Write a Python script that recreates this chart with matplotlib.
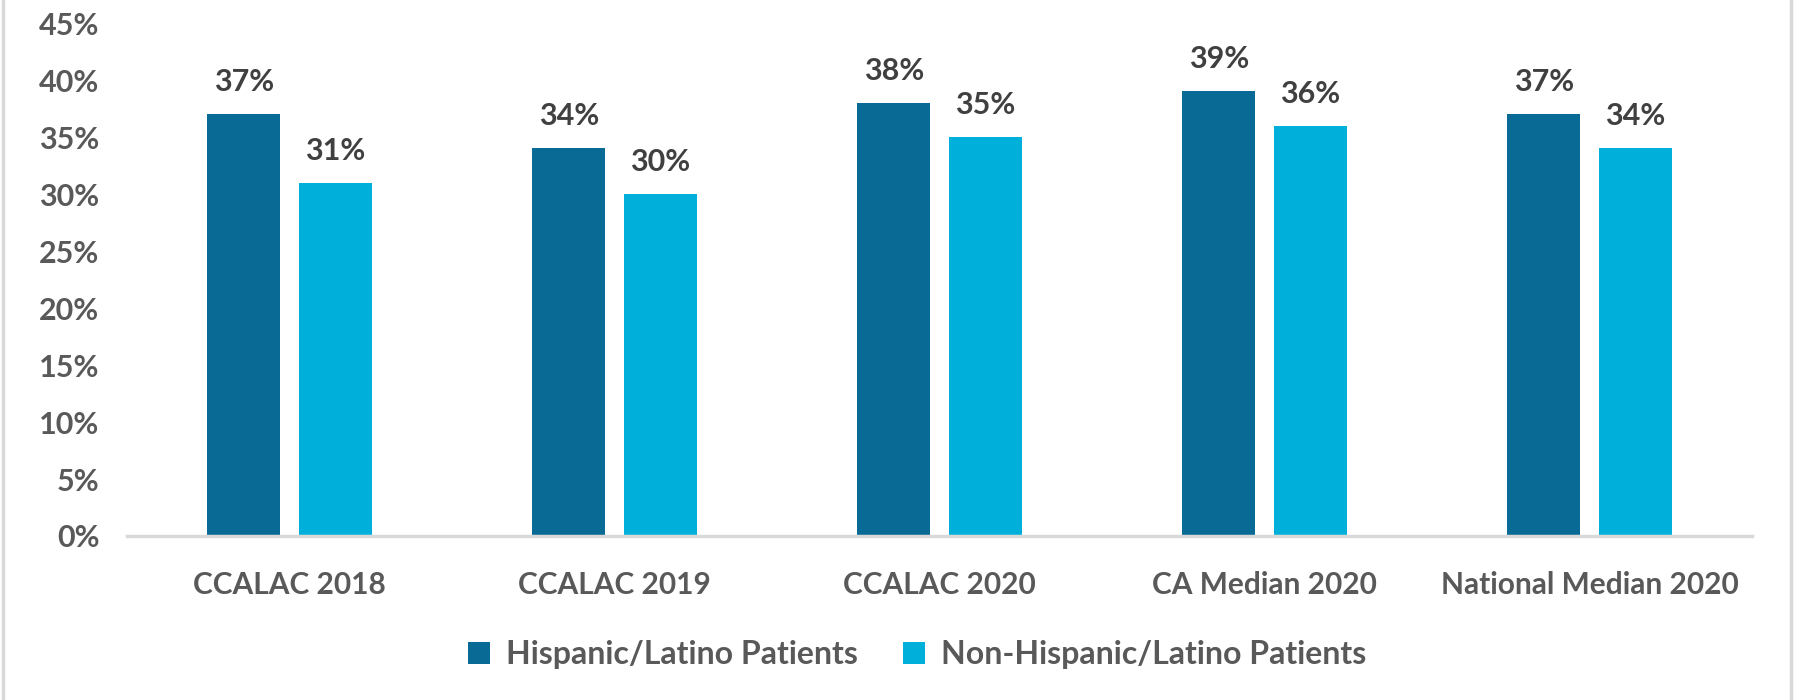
import numpy as np
import matplotlib
matplotlib.use("Agg")
import matplotlib.pyplot as plt
from matplotlib.lines import Line2D
from matplotlib.ticker import PercentFormatter

# Data
categories = ["CCALAC 2018", "CCALAC 2019", "CCALAC 2020", "CA Median 2020", "National Median 2020"]
hispanic = [37, 34, 38, 39, 37]
non_hispanic = [31, 30, 35, 36, 34]
series_names = ["Hispanic/Latino Patients", "Non-Hispanic/Latino Patients"]
yticks = [0, 5, 10, 15, 20, 25, 30, 35, 40, 45]

DARK = "#0A6A96"
LIGHT = "#00B0DA"
GRAY_TXT = "#595959"
VAL_TXT = "#404040"

plt.rcParams["font.family"] = ["Lato", "DejaVu Sans"]
plt.rcParams["font.weight"] = "bold"

fig = plt.figure(figsize=(18.05, 7.0), dpi=100)
ax = fig.add_axes([0.0704, 0.2343, 0.9002, 0.7327])

x = np.arange(len(categories))
w = 0.225
off = w / 2 + 0.028
b1 = ax.bar(x - off, hispanic, w, color=DARK, label=series_names[0])
b2 = ax.bar(x + off, non_hispanic, w, color=LIGHT, label=series_names[1])

# value labels above each bar
for bars in (b1, b2):
    for r in bars:
        ax.annotate(f"{r.get_height():.0f}%", (r.get_x() + r.get_width() / 2, r.get_height()),
                    xytext=(0, 13), textcoords="offset points", ha="center", va="bottom",
                    fontsize=22, color=VAL_TXT, fontweight="bold")

ax.set_xlim(-0.5, len(categories) - 0.5)
ax.set_ylim(0, 45)
ax.set_yticks(yticks)
ax.yaxis.set_major_formatter(PercentFormatter(decimals=0))
ax.set_xticks(x)
ax.set_xticklabels(categories)
ax.tick_params(axis="both", length=0, labelcolor=GRAY_TXT)
ax.tick_params(axis="x", pad=25, labelsize=21.5)
ax.tick_params(axis="y", pad=20, labelsize=22)
for s in ("top", "right", "left"):
    ax.spines[s].set_visible(False)
ax.spines["bottom"].set_color("#D9D9D9")
ax.spines["bottom"].set_linewidth(2.5)

fig.legend(handles=[b1, b2], loc="center", bbox_to_anchor=(0.508, 0.065), ncol=2,
           frameon=False, fontsize=23, labelcolor=GRAY_TXT, handlelength=0.7,
           handleheight=0.7, handletextpad=0.5, columnspacing=1.4)

# chart-area border (left and right edges visible)
for xf in (3 / 1805, 1791 / 1805):
    fig.add_artist(Line2D([xf, xf], [0, 1], transform=fig.transFigure, color="#D9D9D9", lw=2.5))

fig.savefig("out.png", dpi=100, facecolor="white")
